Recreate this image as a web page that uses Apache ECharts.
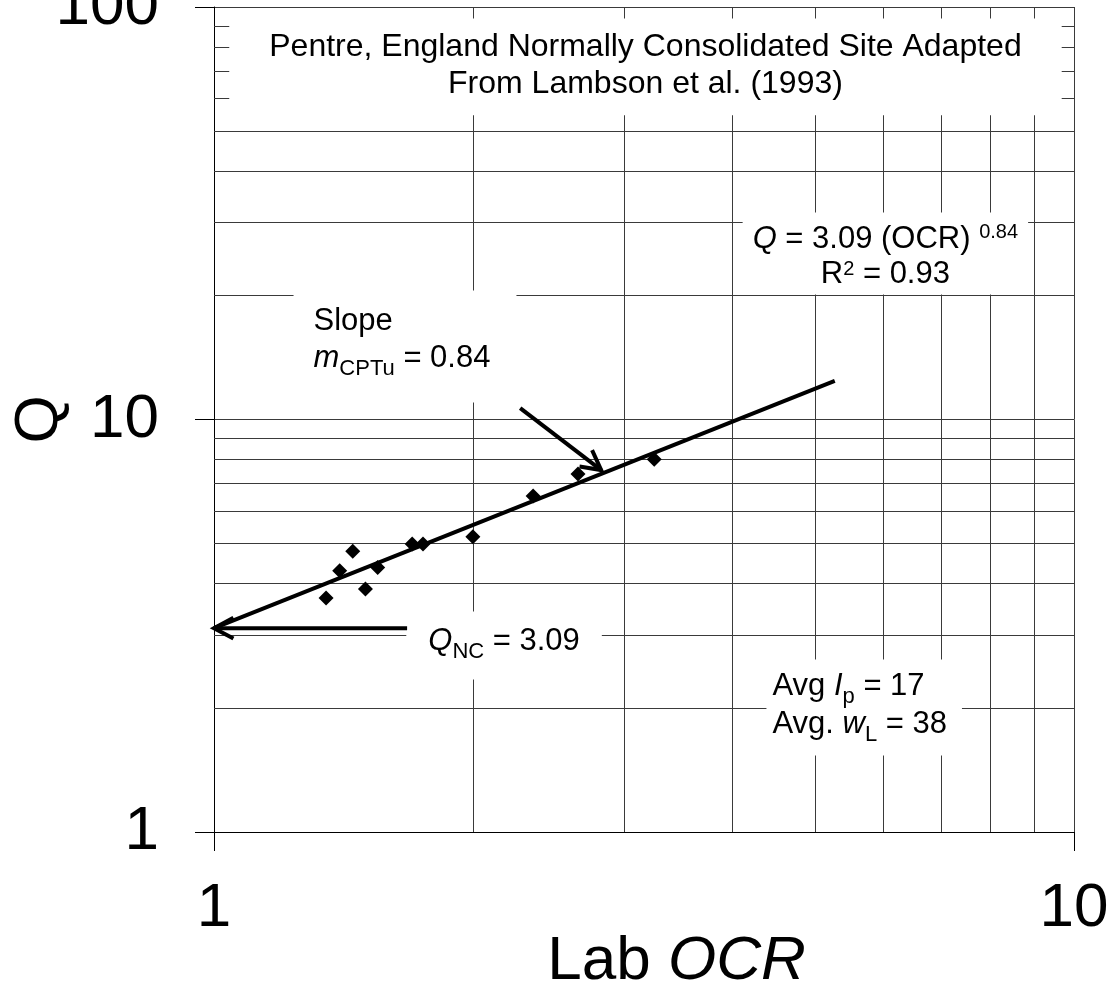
<!DOCTYPE html>
<html><head><meta charset="utf-8">
<script src="https://cdn.jsdelivr.net/npm/echarts@6/dist/echarts.min.js"></script>
<style>html,body{margin:0;padding:0;background:#fff;}#c{width:1113px;height:986px;}</style>
</head><body><div id="c"></div>
<script>
// ---- data ----
const ocr = [1.35, 1.40, 1.45, 1.50, 1.55, 1.70, 1.75, 2.00, 2.35, 2.65, 3.25];
const qVals = [3.69, 4.30, 4.79, 3.88, 4.38, 4.99, 4.99, 5.20, 6.52, 7.38, 8.01];
const fitOcr = [1.0, 5.27];
const fitQ = [3.12, 12.4];
const arrowFrom = [[1.677, 3.12], [2.27, 10.66]];
const arrowTo = [[1.0, 3.12], [2.82, 7.54]];
const minorX = [2, 3, 4, 5, 6, 7, 8, 9];
const minorY = [2, 3, 4, 5, 6, 7, 8, 9, 20, 30, 40, 50, 60, 70, 80, 90];
const titleText = 'Pentre, England Normally Consolidated Site Adapted\nFrom Lambson et al. (1993)';
const eqText = '{qi|Q} = 3.09 (OCR) {sp|0.84}\nR{sp2|2} = 0.93';
const slopeText = 'Slope\n{mi|m}{sb|CPTu} = 0.84';
const qncText = '{qi|Q}{sb|NC} = 3.09';
const avgText = 'Avg {ii|I}{sb|p} = 17\nAvg. {ii|w}{sb|L} = 38';

const FF = "'Liberation Sans', Arial, Helvetica, sans-serif";
const chart = echarts.init(document.getElementById('c'), null, {renderer: 'canvas'});

const gridColor = '#3a3a3a';
const pts = ocr.map((x, i) => [x, qVals[i]]);
const fitData = fitOcr.map((x, i) => [x, fitQ[i]]);
const arrowData = arrowFrom.map((a, i) => [a[0], a[1], arrowTo[i][0], arrowTo[i][1]]);

const subStyle = {fontSize: 22, fontFamily: FF, color: '#000', verticalAlign: 'top', padding: [18, 0, 0, 0]};
const italic = {fontStyle: 'italic', fontSize: 31, fontFamily: FF, color: '#000'};

function note(pos, text, opt) {
  return {
    value: pos,
    label: Object.assign({
      show: true, position: [0, 0], formatter: text, opacity: 1,
      fontFamily: FF, fontSize: 31, color: '#000', backgroundColor: '#fff'
    }, opt)
  };
}

const option = {
  animation: false,
  backgroundColor: '#fff',
  grid: {left: 214, right: 39, top: 7, bottom: 154, containLabel: false, outerBoundsMode: 'none'},
  xAxis: {
    type: 'log', logBase: 10, min: 1, max: 10,
    axisLine: {show: true, lineStyle: {color: '#000', width: 1}},
    axisTick: {show: true, length: 19, inside: false, lineStyle: {color: '#000', width: 1}},
    axisLabel: {fontSize: 62, color: '#000', fontFamily: FF, margin: 46, showMinLabel: true, showMaxLabel: true},
    splitLine: {show: true, lineStyle: {color: gridColor, width: 1}},
    minorTick: {show: false}, minorSplitLine: {show: false},
    name: 'Lab {i|OCR}', nameLocation: 'middle', nameGap: 99, nameMoveOverlap: false,
    nameTextStyle: {fontSize: 62, color: '#000', fontFamily: FF, padding: [0, 0, 0, 65],
      rich: {i: {fontStyle: 'italic', fontSize: 62, fontFamily: FF, color: '#000'}}}
  },
  yAxis: {
    type: 'log', logBase: 10, min: 1, max: 100,
    axisLine: {show: true, lineStyle: {color: '#000', width: 1}},
    axisTick: {show: true, length: 19, inside: false, lineStyle: {color: '#000', width: 1}},
    axisLabel: {fontSize: 62, color: '#000', fontFamily: FF, margin: 55, showMinLabel: true, showMaxLabel: true},
    splitLine: {show: true, lineStyle: {color: gridColor, width: 1}},
    minorTick: {show: false}, minorSplitLine: {show: false},
    name: 'Q', nameLocation: 'middle', nameGap: 143, nameMoveOverlap: false,
    nameTextStyle: {fontSize: 62, color: '#000', fontFamily: FF}
  },
  series: [
    {
      type: 'line', data: [], z: 1, silent: true,
      markLine: {
        z: 1, silent: true, symbol: ['none', 'none'], animation: false,
        label: {show: false},
        lineStyle: {type: 'solid', color: gridColor, width: 1},
        emphasis: {disabled: true},
        data: minorX.map(v => ({xAxis: v})).concat(minorY.map(v => ({yAxis: v})))
      }
    },
    {
      type: 'scatter', z: 3, silent: true, symbol: 'circle', symbolSize: 1,
      itemStyle: {color: 'rgba(0,0,0,0)', opacity: 1},
      data: [
        note([3.179, 93.5], titleText, {align: 'center', verticalAlign: 'top', lineHeight: 36.6,
          fontSize: 32, padding: [10.5, 40, 13, 40]}),
        note([6.043, 31.67], eqText, {align: 'center', verticalAlign: 'top', lineHeight: 35,
          padding: [9, 10, 3, 10],
          rich: {
            qi: italic,
            sp: {fontSize: 20, fontFamily: FF, color: '#000', verticalAlign: 'top', padding: [1, 0, 0, 0]},
            sp2: {fontSize: 20, fontFamily: FF, color: '#000', verticalAlign: 'top', padding: [3, 0, 0, 0]}
          }}),
        note([1.239, 20.49], slopeText, {align: 'left', verticalAlign: 'top', lineHeight: 37,
          padding: [12, 26, 26, 20],
          rich: {mi: italic, sb: subStyle}}),
        note([2.177, 3.414], qncText, {align: 'center', verticalAlign: 'top', lineHeight: 37,
          padding: [11, 22, 20, 22],
          rich: {qi: italic, sb: subStyle}}),
        note([4.395, 2.612], avgText, {align: 'left', verticalAlign: 'top', lineHeight: 38,
          padding: [8, 15, 12, 6],
          rich: {ii: italic, sb: Object.assign({}, subStyle, {padding: [18, 0, 0, 0]})}})
      ]
    },
    {
      type: 'line', z: 5, silent: true, clip: false, data: fitData, symbol: 'none',
      lineStyle: {color: '#000', width: 4}
    },
    {
      type: 'custom', z: 6, silent: true, clip: false, data: arrowData,
      encode: {x: [0, 2], y: [1, 3]},
      renderItem: function (params, api) {
        const p0 = api.coord([api.value(0), api.value(1)]);
        const p1 = api.coord([api.value(2), api.value(3)]);
        const ang = Math.atan2(p1[1] - p0[1], p1[0] - p0[0]);
        const L = 22, a = 28 * Math.PI / 180;
        const h1 = [p1[0] - L * Math.cos(ang - a), p1[1] - L * Math.sin(ang - a)];
        const h2 = [p1[0] - L * Math.cos(ang + a), p1[1] - L * Math.sin(ang + a)];
        return {
          type: 'group', children: [
            {type: 'polyline', shape: {points: [p0, p1]}, style: {stroke: '#000', lineWidth: 4, fill: null}},
            {type: 'polyline', shape: {points: [h1, p1, h2]}, style: {stroke: '#000', lineWidth: 4, fill: null, lineJoin: 'miter'}}
          ]
        };
      }
    },
    {
      type: 'scatter', z: 7, silent: true, data: pts, symbol: 'diamond', symbolSize: 15,
      itemStyle: {color: '#000', opacity: 1}
    }
  ]
};
chart.setOption(option);
</script>
</body></html>
